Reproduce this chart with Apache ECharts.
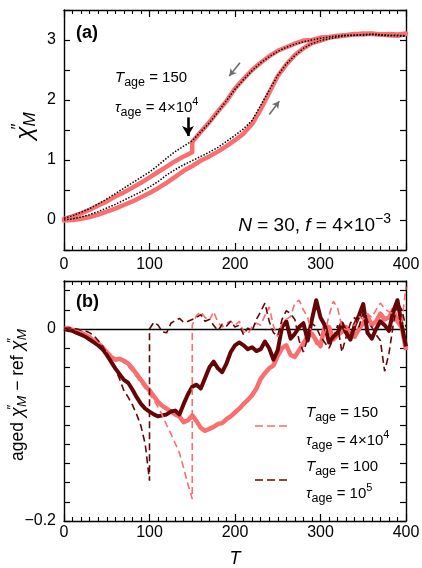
<!DOCTYPE html>
<html>
<head>
<meta charset="utf-8">
<script src="https://cdn.jsdelivr.net/npm/echarts@6/dist/echarts.min.js"></script>
<style>html,body{margin:0;padding:0;background:#fff}#c{width:422px;height:568px}</style>
</head>
<body>
<div id="c"></div>
<script>
// ---------- Panel (a) data ----------
const tA = [0,10,20,30,40,50,60,70,80,90,100,110,120,130,140,150,160,170,180,190,200,210,220,230,240,250,260,270,280,290,300,310,320,330,340,350,360,370,380,390,400];
const aCoolRef = [0.03,0.07,0.13,0.19,0.27,0.35,0.44,0.53,0.62,0.71,0.80,0.91,1.03,1.14,1.23,1.32,1.47,1.62,1.80,1.99,2.18,2.34,2.49,2.62,2.72,2.81,2.88,2.93,2.97,3.00,3.03,3.05,3.07,3.08,3.08,3.09,3.10,3.09,3.08,3.08,3.07];
const aHeatRef = [0.00,0.02,0.05,0.09,0.14,0.20,0.26,0.33,0.40,0.47,0.55,0.64,0.75,0.84,0.92,0.99,1.06,1.13,1.21,1.31,1.41,1.52,1.66,1.91,2.16,2.41,2.60,2.74,2.86,2.94,2.99,3.02,3.05,3.07,3.08,3.08,3.09,3.08,3.07,3.07,3.06];
const aHeatAged = [-0.01,0.00,0.02,0.05,0.09,0.14,0.19,0.25,0.31,0.38,0.45,0.53,0.62,0.72,0.82,0.90,0.99,1.06,1.14,1.23,1.33,1.44,1.60,1.84,2.12,2.40,2.59,2.75,2.86,2.95,2.99,3.04,3.06,3.08,3.10,3.09,3.11,3.09,3.08,3.07,3.10];
const tAgedLow = [0,10,20,30,40,50,60,70,80,90,100,110,120,130,140,150];
const aCoolAgedLow = [0.02,0.06,0.11,0.17,0.24,0.31,0.39,0.46,0.54,0.62,0.71,0.80,0.89,0.98,1.06,1.13];
const tAgedHigh = [150,160,170,180,190,200,210,220,230,240,250,260,270,280,290,300,310,320,330,340,350,360,370,380,390,400];
const aCoolAgedHigh = [1.30,1.47,1.63,1.81,1.98,2.19,2.35,2.50,2.62,2.73,2.82,2.88,2.94,2.99,3.00,3.04,3.05,3.07,3.08,3.09,3.11,3.10,3.09,3.10,3.09,3.11];

// ---------- Panel (b) data ----------
const tB = [0,5,10,15,20,25,30,35,40,45,50,55,60,65,70,75,80,85,90,95,100,105,110,115,120,125,130,135,140,145,150,155,160,165,170,175,180,185,190,195,200,205,210,215,220,225,230,235,240,245,250,255,260,265,270,275,280,285,290,295,300,305,310,315,320,325,330,335,340,345,350,355,360,365,370,375,380,385,390,395,400];
const bAged150 = [0,0.001,-0.001,-0.002,-0.004,-0.006,-0.009,-0.012,-0.015,-0.019,
 -0.024,-0.029,-0.032,-0.031,-0.033,-0.036,-0.041,-0.047,-0.053,-0.059,
 -0.064,-0.070,-0.076,-0.080,-0.083,-0.086,-0.089,-0.091,-0.097,-0.095,
 -0.090,-0.096,-0.103,-0.106,-0.104,-0.102,-0.099,-0.098,-0.094,-0.091,
 -0.087,-0.083,-0.078,-0.074,-0.069,-0.062,-0.052,-0.046,-0.041,-0.038,
 -0.028,-0.020,-0.017,-0.027,-0.029,-0.022,-0.015,-0.008,-0.005,-0.012,
 -0.018,0.003,0.002,-0.011,-0.006,-0.003,0.002,-0.006,-0.008,0.000,
 0.006,0.013,0.004,0.008,0.016,0.010,0.012,0.020,0.008,0.002,
 -0.022];
const bAged100 = [0,-0.001,-0.002,-0.004,-0.006,-0.008,-0.011,-0.014,-0.017,-0.021,
 -0.027,-0.034,-0.041,-0.047,-0.053,-0.056,-0.063,-0.071,-0.078,-0.083,
 -0.086,-0.089,-0.091,-0.090,-0.089,-0.086,-0.085,-0.089,-0.078,-0.068,
 -0.060,-0.058,-0.062,-0.051,-0.040,-0.034,-0.041,-0.045,-0.036,-0.024,
 -0.017,-0.014,-0.017,-0.021,-0.019,-0.023,-0.021,-0.013,-0.020,-0.032,
 -0.022,0.002,0.008,-0.010,-0.005,0.002,0.006,-0.012,0.010,0.030,
 0.012,0.004,-0.014,-0.008,-0.004,0.006,-0.004,-0.011,0.004,0.014,
 0.026,-0.004,-0.010,0.000,0.008,0.004,-0.002,0.018,0.030,0.004,
 -0.018];
const tDash150 = tB.slice(0, 31).concat(tB.slice(30));
const bJump150 = [0,0.001,0.000,-0.001,-0.003,-0.005,-0.007,-0.010,-0.014,-0.018,
 -0.023,-0.028,-0.031,-0.032,-0.035,-0.039,-0.044,-0.050,-0.056,-0.062,
 -0.068,-0.074,-0.081,-0.090,-0.100,-0.109,-0.119,-0.129,-0.145,-0.162,
 -0.177,
 0.004,0.014,0.018,0.012,0.009,0.018,0.007,0.002,0.006,0.008,
 0.004,0.008,-0.003,-0.005,0.002,0.006,0.004,0.014,0.023,0.003,
 -0.008,0.006,0.010,0.013,0.027,0.030,0.020,0.012,-0.006,-0.016,
 -0.018,-0.004,0.014,0.029,0.022,0.002,-0.001,0.002,0.004,0.013,
 0.010,0.016,0.012,0.020,0.027,0.021,0.018,0.016,0.010,0.006,
 0.044];
const tDash100 = tB.slice(0, 21).concat(tB.slice(20));
const bJump100 = [0,0.001,0.001,0.000,-0.001,-0.002,-0.004,-0.007,-0.012,-0.018,
 -0.025,-0.033,-0.042,-0.052,-0.064,-0.071,-0.079,-0.089,-0.101,-0.120,
 -0.158,
 0.000,0.007,0.004,-0.003,-0.004,0.006,0.009,0.011,0.007,0.008,
 0.010,0.012,0.015,0.008,0.010,0.004,-0.002,0.005,0.003,0.008,
 0.002,0.004,-0.006,0.001,-0.002,0.010,0.018,0.027,0.008,-0.004,
 -0.007,0.010,0.019,0.016,0.010,-0.012,-0.024,-0.010,0.006,0.002,
 -0.008,-0.014,-0.020,-0.010,0.004,-0.024,-0.008,0.006,0.012,0.002,
 0.018,0.008,0.002,-0.006,-0.012,-0.044,-0.026,0.004,0.028,0.020,
 0.002];

// ---------- tick labels / annotations ----------
const xTickLabels = [0, 100, 200, 300, 400];
const yTickLabelsA = [0, 1, 2, 3];
const yTickLabelsB = [0, -0.2];
const arrowCool = [[205.8, 2.62], [193.3, 2.40]];
const arrowHeat = [[240.1, 1.76], [251.8, 1.98]];
const arrowAge = [[145, 1.71], [145, 1.40]];

// ---------- styling ----------
const F = '"Liberation Sans", Arial, Helvetica, sans-serif';
const LIGHT = '#F96E6E';
const DARK = '#650606';
const GRAY = '#6E6E6E';

function pairs(xs, ys) { return xs.map((x, i) => [x, ys[i]]); }
function hasLabel(list, v) { return list.some(t => Math.abs(t - v) < 1e-9); }
function fmtNum(v) { return v < 0 ? '\u2212' + String(-v) : String(v); }

const AX_LINE = { show: true, onZero: false, lineStyle: { color: '#000', width: 1.4 } };

function xAxis(gridIndex, position, labelMargin, name) {
  return {
    type: 'value', gridIndex, position, min: 0, max: 400, interval: 100,
    axisLine: AX_LINE,
    axisTick: { show: true, inside: true, length: 7, lineStyle: { color: '#000', width: 1.2 } },
    minorTick: { show: true, splitNumber: 10, length: 4, lineStyle: { color: '#000', width: 1.1 } },
    splitLine: { show: false }, minorSplitLine: { show: false },
    axisLabel: {
      show: labelMargin != null, margin: labelMargin || 0, color: '#000', fontFamily: F, fontSize: 16,
      showMinLabel: true, showMaxLabel: true,
      formatter: v => hasLabel(xTickLabels, v) ? fmtNum(v) : ''
    },
    name: name || '', nameLocation: 'middle', nameGap: 29,
    nameTextStyle: { fontFamily: F, fontSize: 18, fontStyle: 'italic', color: '#000' }
  };
}
function yAxis(gridIndex, position, min, max, interval, labels) {
  return {
    type: 'value', gridIndex, position, min, max, interval,
    axisLine: AX_LINE,
    axisTick: { show: true, inside: true, length: 6, lineStyle: { color: '#000', width: 1.2 } },
    splitLine: { show: false },
    axisLabel: {
      show: !!labels, margin: 8, color: '#000', fontFamily: F, fontSize: 16,
      showMinLabel: true, showMaxLabel: true,
      formatter: v => (labels && hasLabel(labels, v)) ? fmtNum(Math.round(v * 1000) / 1000) : ''
    }
  };
}

function rich(main, sub, sup, L) {
  return {
    i: { fontFamily: F, fontSize: main, fontStyle: 'italic', lineHeight: L, fill: '#000' },
    n: { fontFamily: F, fontSize: main, lineHeight: L, fill: '#000' },
    s: { fontFamily: F, fontSize: sub, height: sub, lineHeight: L, verticalAlign: 'bottom', fill: '#000' },
    p: { fontFamily: F, fontSize: sup, height: sup - 2, lineHeight: L, verticalAlign: 'top', fill: '#000' }
  };
}
function chiRich(main, sub, L) {
  return {
    n: { fontFamily: F, fontSize: main, lineHeight: L, fill: '#000' },
    c: { fontFamily: F, fontSize: main + 1, fontStyle: 'italic', lineHeight: L, fill: '#000' },
    q: { fontFamily: F, fontSize: sub, height: sub - 2, width: 0.1, lineHeight: L, verticalAlign: 'top', fill: '#000' },
    m: { fontFamily: F, fontSize: sub, fontStyle: 'italic', height: sub, lineHeight: L, verticalAlign: 'bottom', fill: '#000' }
  };
}
const R15 = rich(15, 12.5, 11, 21);
const R19 = rich(19, 15, 14, 25);

function txt(x, y, text, r, align) {
  return { type: 'text', x, y, silent: true,
    style: { text, rich: r, align: align || 'left', verticalAlign: 'middle', fill: '#000', fontFamily: F, fontSize: 15 } };
}

function arrowLine(pts, color, width, size) {
  return {
    silent: true, animation: false, symbol: ['none', 'arrow'], symbolSize: size,
    label: { show: false }, emphasis: { disabled: true },
    lineStyle: { color, width, type: 'solid' },
    data: [[{ coord: pts[0] }, { coord: pts[1] }]]
  };
}

const chart = echarts.init(document.getElementById('c'), null, { renderer: 'canvas', width: 422, height: 568 });

const option = {
  animation: false,
  backgroundColor: '#fff',
  grid: [
    { left: 64, right: 16, top: 10, height: 240, outerBoundsMode: 'none', containLabel: false },
    { left: 64, right: 16, top: 281, height: 240, outerBoundsMode: 'none', containLabel: false }
  ],
  xAxis: [
    xAxis(0, 'bottom', 7),
    xAxis(0, 'top', null),
    xAxis(1, 'bottom', 4, 'T'),
    xAxis(1, 'top', null)
  ],
  yAxis: [
    yAxis(0, 'left', -0.5, 3.5, 0.5, yTickLabelsA),
    yAxis(0, 'right', -0.5, 3.5, 0.5, null),
    yAxis(1, 'left', -0.2, 0.05, 0.02, yTickLabelsB),
    yAxis(1, 'right', -0.2, 0.05, 0.02, null)
  ],
  series: [
    // panel (a)
    { type: 'line', name: 'aged cooling', xAxisIndex: 0, yAxisIndex: 0, symbol: 'none', silent: true, z: 2,
      data: pairs(tAgedLow, aCoolAgedLow).concat(pairs(tAgedHigh, aCoolAgedHigh)),
      lineStyle: { color: LIGHT, width: 4.5, join: 'round', cap: 'round' } },
    { type: 'line', name: 'aged heating', xAxisIndex: 0, yAxisIndex: 0, symbol: 'none', silent: true, z: 2,
      data: pairs(tA, aHeatAged),
      lineStyle: { color: LIGHT, width: 4.5, join: 'round', cap: 'round' } },
    { type: 'line', name: 'ref cooling', xAxisIndex: 0, yAxisIndex: 0, symbol: 'none', silent: true, z: 3,
      data: pairs(tA, aCoolRef),
      lineStyle: { color: '#000', width: 1.5, type: [1.5, 1.6] },
      markLine: Object.assign(arrowLine(arrowCool, GRAY, 1.6, [6, 7]), { z: 6 }) },
    { type: 'line', name: 'ref heating', xAxisIndex: 0, yAxisIndex: 0, symbol: 'none', silent: true, z: 3,
      data: pairs(tA, aHeatRef),
      lineStyle: { color: '#000', width: 1.5, type: [1.5, 1.6] },
      markLine: Object.assign(arrowLine(arrowHeat, GRAY, 1.6, [6, 7]), { z: 6 }) },
    { type: 'line', name: 'age arrow', xAxisIndex: 0, yAxisIndex: 0, symbol: 'none', silent: true, z: 3,
      data: [], markLine: Object.assign(arrowLine(arrowAge, '#000', 2.6, [9, 10]), { z: 6 }) },
    // panel (b)
    { type: 'line', name: 'diff 150', xAxisIndex: 2, yAxisIndex: 2, symbol: 'none', silent: true, z: 2,
      data: pairs(tB, bAged150),
      lineStyle: { color: LIGHT, width: 4.5, join: 'round' },
      markLine: { silent: true, symbol: 'none', z: 1, label: { show: false }, emphasis: { disabled: true },
        lineStyle: { color: '#000', width: 1.3, type: 'solid' }, data: [{ yAxis: 0 }] } },
    { type: 'line', name: 'diff 100', xAxisIndex: 2, yAxisIndex: 2, symbol: 'none', silent: true, z: 3,
      data: pairs(tB, bAged100),
      lineStyle: { color: DARK, width: 4, join: 'round' } },
    { type: 'line', name: 'jump 150', xAxisIndex: 2, yAxisIndex: 2, symbol: 'none', silent: true, z: 4,
      data: pairs(tDash150, bJump150),
      lineStyle: { color: LIGHT, width: 1.6, type: [7, 4] } },
    { type: 'line', name: 'jump 100', xAxisIndex: 2, yAxisIndex: 2, symbol: 'none', silent: true, z: 4,
      data: pairs(tDash100, bJump100),
      lineStyle: { color: DARK, width: 1.6, type: [7, 4] } }
  ],
  graphic: [
    { type: 'text', x: 76, y: 33, silent: true, style: { text: '(a)', fontFamily: F, fontSize: 18, fontWeight: 'bold', fill: '#000', verticalAlign: 'middle' } },
    { type: 'text', x: 76, y: 302, silent: true, style: { text: '(b)', fontFamily: F, fontSize: 18, fontWeight: 'bold', fill: '#000', verticalAlign: 'middle' } },
    txt(115, 78, '{i|T}{s|age}{n| = 150}', R15),
    txt(115, 108, '{i|\u03C4}{s|age}{n| = 4\u00D710}{p|4}', R15),
    txt(391, 226, '{i|N}{n| = 30, }{i|f}{n| = 4\u00D710}{p|\u22123}', R19, 'right'),
    // legend of panel (b)
    { type: 'line', silent: true, shape: { x1: 255, y1: 426, x2: 290, y2: 426 }, style: { stroke: LIGHT, lineWidth: 1.6, lineDash: [8, 4] } },
    { type: 'line', silent: true, shape: { x1: 255, y1: 480, x2: 290, y2: 480 }, style: { stroke: DARK, lineWidth: 1.6, lineDash: [8, 4] } },
    txt(306, 413, '{i|T}{s|age}{n| = 150}', R15),
    txt(306, 441, '{i|\u03C4}{s|age}{n| = 4\u00D710}{p|4}', R15),
    txt(306, 467, '{i|T}{s|age}{n| = 100}', R15),
    txt(306, 494, '{i|\u03C4}{s|age}{n| = 10}{p|5}', R15),
    // y-axis titles
    { type: 'text', x: 25, y: 126, rotation: Math.PI / 2, silent: true,
      style: { text: '{c|\u03C7}{q|\u2033}{m|M}', rich: chiRich(23, 17, 28), align: 'center', verticalAlign: 'middle' } },
    { type: 'text', x: 18, y: 395, rotation: Math.PI / 2, silent: true,
      style: { text: '{n|aged }{c|\u03C7}{q|\u2033}{m|M}{n| \u2212 ref }{c|\u03C7}{q|\u2033}{m|M}', rich: chiRich(17.5, 13.5, 22), align: 'center', verticalAlign: 'middle' } }
  ]
};
chart.setOption(option);
</script>
</body>
</html>
